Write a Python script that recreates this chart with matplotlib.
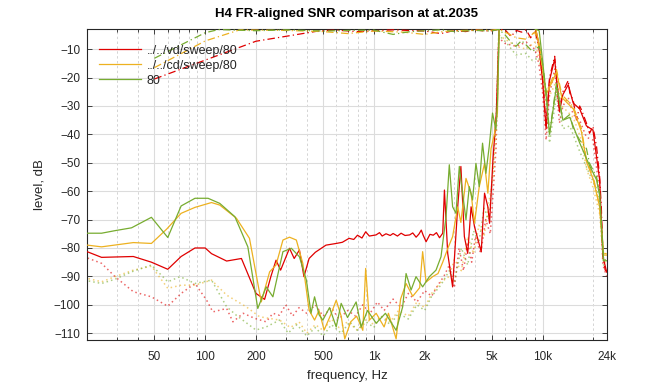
import matplotlib
matplotlib.use("Agg")
import matplotlib.pyplot as plt
from matplotlib.ticker import FixedLocator, NullFormatter
from matplotlib.lines import Line2D

plt.rcParams['font.family'] = ['Liberation Sans', 'DejaVu Sans']

# ---------------- data ----------------
title = "H4 FR-aligned SNR comparison at at.2035"
labels = ["../../vd/sweep/80", "../../cd/sweep/80", "80"]
xticks = [50, 100, 200, 500, 1000, 2000, 5000, 10000, 24000]
xticklabels = ["50", "100", "200", "500", "1k", "2k", "5k", "10k", "24k"]
yticks = [-110, -100, -90, -80, -70, -60, -50, -40, -30, -20, -10]

# frequency responses (dash-dot)
red_fr_f = [50, 200, 480, 600, 800, 1000, 1300, 1600, 2000, 2500, 3000, 3500, 4000, 4500, 5000,
            5500, 6000, 6500, 7000, 7500, 8000, 8500, 9000, 9500, 10000, 10500, 11000, 11800,
            12600, 13200, 14200, 14500, 15200, 15900, 16600, 17000, 18200, 19000, 19900, 20900,
            21800, 22300, 22800, 23500, 24000]
red_fr = [-20.5, -7.2, -3.5, -3.3, -3.8, -3.5, -3.2, -3.4, -3.6, -4.5, -3.4, -3.8, -3.2, -3.6, -3.5,
          -3.0, -3.2, -5.5, -3.4, -4.0, -3.2, -6.0, -3.5, -9.0, -19.6, -37.0, -20.0, -12.5,
          -31.0, -25.0, -21.0, -25.4, -28.0, -34.9, -30.0, -31.3, -36.0, -39.6, -37.2, -44.3,
          -54.9, -65.5, -81.9, -87.8, -88.0]

orange_fr_f = [50, 100, 160, 300, 500, 700, 1000, 1500, 2000, 2500, 3000, 4000, 5000, 5500, 6000,
               7000, 8000, 9000, 9600, 10500, 11500, 12100, 13000, 15200, 17000, 18200, 20000,
               21800, 23000, 24000]
orange_fr = [-16.5, -7.1, -3.2, -3.4, -3.8, -4.5, -3.6, -4.0, -4.8, -3.9, -3.5, -3.3, -3.3, -3.0, -4.0,
             -6.0, -6.5, -4.0, -10.0, -25.4, -20.0, -17.2, -26.0, -30.2, -38.0, -49.0, -55.0,
             -65.5, -81.9, -82.0]

green_fr_f = [50, 100, 120, 200, 300, 500, 700, 1000, 1300, 1600, 2000, 2500, 3000, 4000, 5000,
              5500, 6000, 6500, 6950, 7500, 7960, 8710, 9550, 10000, 10500, 11000, 12100, 13200,
              14500, 15200, 16600, 18200, 19000, 20900, 21800, 23000, 24000]
green_fr = [-13.2, -4.2, -3.1, -3.5, -3.2, -3.6, -3.4, -3.3, -4.8, -3.9, -3.5, -3.2, -3.8, -3.4, -3.6,
            -3.0, -5.0, -7.5, -9.0, -7.0, -8.4, -10.8, -9.0, -15.0, -25.0, -39.6, -22.0, -35.0,
            -33.0, -38.0, -42.0, -45.0, -50.2, -55.0, -60.7, -84.2, -84.0]

# noise (solid)
red_n_f = [15, 24.3, 37.5, 48, 60, 72, 87, 100, 109, 134, 164, 200, 225, 245, 263, 280, 316, 337,
           362, 385, 413, 450, 520, 599, 650, 713, 760, 800, 850, 894, 940, 1030, 1080, 1120, 1180,
           1250, 1300, 1380, 1450, 1530, 1630, 1700, 1780, 1850, 1910, 1960, 2040, 2150, 2250,
           2350, 2450, 2560, 2620, 2740, 2930, 3140, 3280, 3440, 3600, 3770, 3950, 4330, 4530,
           4740, 4850, 5080, 5320, 5530, 6000, 7000, 8000, 9000, 9500, 10000, 10500, 11000, 11800,
           12600, 13200, 14200, 15200, 16600, 18200, 19900, 21800, 22800, 24000]
red_n = [-78.4, -83.3, -83.0, -85.0, -87.5, -83.0, -80.0, -80.0, -82.0, -84.6, -83.7, -96.0, -98.1,
         -90.1, -84.3, -87.8, -80.1, -83.7, -80.7, -90.1, -83.7, -81.5, -79.0, -78.4, -78.0, -76.6,
         -77.0, -75.5, -76.5, -74.3, -75.8, -75.4, -74.6, -75.8, -75.0, -75.6, -74.9, -75.8, -74.8,
         -75.6, -75.4, -74.7, -76.2, -75.1, -73.7, -75.5, -77.8, -75.2, -75.5, -74.6, -76.4, -74.8,
         -59.6, -81.9, -93.7, -65.5, -51.3, -76.0, -81.9, -65.5, -72.5, -81.3, -60.7, -65.5,
         -71.3, -49.0, -32.5, -2.0, -1.0, -1.0, -1.0, -1.5, -8.0, -21.0, -38.0, -21.0, -13.5,
         -32.0, -26.0, -22.5, -29.0, -31.0, -37.0, -38.5, -56.0, -83.0, -88.5]

orange_n_f = [15, 24.3, 37.5, 48, 59, 72, 87, 109, 122, 153, 183, 215, 241, 263, 289, 316, 347, 379,
              413, 445, 473, 507, 556, 598, 640, 672, 729, 790, 860, 894, 940, 1032, 1150, 1220,
              1355, 1440, 1552, 1700, 1868, 1946, 2040, 2230, 2400, 2560, 2750, 2930, 3140, 3280,
              3516, 3770, 3950, 4214, 4530, 4740, 4950, 5180, 5400, 5534, 6000, 7000, 8000, 9000,
              9600, 10500, 11500, 12100, 13000, 15200, 17000, 18200, 20000, 21800, 23000, 24000]
orange_n = [-78.1, -79.6, -78.1, -78.4, -73.4, -67.8, -65.7, -64.0, -64.9, -69.5, -76.6, -99.0,
            -88.4, -86.0, -77.2, -76.2, -77.2, -85.4, -101.9, -105.4, -102.0, -108.9, -103.4,
            -98.4, -104.0, -112.0, -106.0, -104.0, -109.0, -87.2, -105.4, -103.0, -107.8, -103.0,
            -112.0, -98.0, -92.5, -97.0, -94.0, -81.3, -92.0, -90.1, -89.0, -85.0, -80.0, -76.0,
            -65.5, -71.0, -55.5, -60.7, -71.3, -58.4, -50.2, -60.7, -45.0, -40.0, -32.5, -2.0,
            -1.0, -1.5, -2.0, -1.5, -9.0, -26.0, -21.0, -18.0, -27.0, -31.0, -39.0, -49.5, -56.0,
            -65.5, -82.5, -82.5]

green_n_f = [15, 24.3, 29.2, 36.6, 48, 60, 72, 87, 104, 122, 150, 179, 205, 230, 252, 276, 289, 324,
             362, 398, 424, 445, 473, 498, 546, 598, 640, 698, 785, 841, 916, 1032, 1171, 1355, 1482,
             1552, 1662, 1778, 1946, 2132, 2336, 2500, 2678, 2800, 2930, 3068, 3210, 3358, 3516,
             3678, 3846, 4028, 4214, 4408, 4616, 4828, 5052, 5290, 5408, 5534, 6060, 6950, 7960,
             8710, 9550, 10000, 10500, 11000, 12100, 13200, 14500, 16600, 19000, 20900, 21800,
             23000, 24000]
green_n = [-74.8, -74.8, -73.9, -72.9, -69.2, -76.3, -65.2, -62.5, -62.5, -64.3, -69.0, -79.6,
           -101.3, -93.7, -97.2, -86.6, -81.3, -80.1, -83.1, -91.3, -103.0, -97.2, -103.5, -105.4,
           -101.0, -107.8, -99.5, -104.5, -99.0, -107.8, -102.0, -106.5, -103.0, -109.0, -100.7,
           -89.0, -94.8, -90.1, -93.7, -90.1, -87.8, -83.1, -69.0, -50.7, -65.5, -67.8, -51.3,
           -60.7, -70.1, -58.4, -63.1, -50.2, -58.4, -43.1, -53.7, -44.3, -32.5, -38.4, -27.8,
           -2.0, -1.5, -2.5, -2.0, -2.5, -3.5, -14.0, -26.0, -40.0, -23.0, -35.0, -34.0, -43.0,
           -51.0, -56.0, -61.5, -84.5, -84.5]

# noise (dotted)
red_d_f = [15, 24.3, 29.2, 37.5, 48, 60, 72, 87, 102, 111, 134, 146, 168, 197, 230, 252, 276,
           300, 330, 360, 400, 450, 500, 560, 620, 700, 780, 860, 950, 1050, 1150, 1300, 1450,
           1600, 1800, 2000, 2200, 2400, 2600, 2800, 3000, 3200, 3400, 3600, 3800, 4000, 4300,
           4600, 4900, 5100, 5300, 5500, 6000, 7000, 8000, 9000, 9500, 10000, 10500, 11000,
           11800, 12600, 13200, 14200, 15200, 16600, 18200, 19900, 21800, 22800, 24000]
red_d = [-80.7, -85.4, -90.1, -95.4, -97.2, -100.5, -96.0, -92.5, -98.4, -102.5, -101.3, -106.0,
         -103.0, -104.8, -106.0, -103.0, -103.7,
         -100.0, -104.0, -101.0, -103.0, -100.0, -104.0, -101.0, -105.0, -102.0, -104.0, -100.0,
         -103.0, -99.0, -102.0, -98.0, -101.0, -96.0, -99.0, -95.0, -97.0, -93.0, -90.0, -86.0,
         -94.0, -80.0, -88.0, -78.0, -85.0, -76.0, -82.0, -70.0, -75.0, -60.0, -45.0, -6.0,
         -8.0, -9.0, -7.5, -10.0, -15.0, -25.0, -42.0, -26.0, -17.0, -36.0, -30.0, -27.0, -33.0,
         -35.0, -41.0, -42.0, -60.0, -86.0, -90.0]

orange_d_f = [15, 24.3, 29.2, 37.5, 48, 60, 72, 87, 109, 134, 175, 210, 276,
              320, 360, 400, 450, 500, 560, 620, 700, 800, 900, 1000, 1100, 1250, 1400, 1600,
              1800, 2000, 2200, 2500, 2800, 3000, 3300, 3600, 3900, 4200, 4500, 4800, 5100, 5300,
              5500, 6000, 7000, 8000, 9000, 9600, 10500, 11500, 12100, 13000, 15200, 17000, 18200,
              20000, 21800, 23000, 24000]
orange_d = [-88.9, -91.9, -90.1, -87.8, -86.4, -94.2, -93.1, -93.1, -91.3, -96.6, -100.7, -104.2,
            -105.4,
            -108.0, -106.0, -110.0, -107.0, -109.0, -105.0, -108.0, -106.0, -109.0, -105.0,
            -107.0, -104.0, -106.0, -102.0, -104.0, -99.0, -101.0, -96.0, -92.0, -90.0, -84.0,
            -88.0, -76.0, -82.0, -72.0, -76.0, -64.0, -55.0, -40.0, -5.0,
            -6.5, -9.0, -10.0, -7.5, -14.0, -29.0, -24.0, -21.0, -30.0, -34.0, -42.0, -52.0,
            -59.0, -68.0, -85.0, -85.0]

green_d_f = [15, 24.3, 29.2, 36.6, 48, 60, 71, 87, 109, 134, 153, 200, 230, 276,
             310, 350, 400, 450, 500, 560, 640, 720, 800, 900, 1000, 1100, 1250, 1400, 1600, 1800,
             2000, 2200, 2500, 2800, 3000, 3300, 3600, 3900, 4200, 4500, 4800, 5100, 5300, 5500,
             6060, 6950, 7960, 8710, 9550, 10000, 10500, 11000, 12100, 13200, 14500, 16600, 19000,
             20900, 21800, 23000, 24000]
green_d = [-90.1, -92.5, -91.0, -88.4, -86.0, -91.9, -90.1, -92.5, -91.3, -100.7, -103.7, -108.9,
           -107.8, -105.4,
           -110.0, -107.0, -111.0, -108.0, -111.0, -107.0, -110.0, -106.0, -109.0, -106.0,
           -108.0, -104.0, -107.0, -103.0, -105.0, -100.0, -102.0, -97.0, -93.0, -88.0, -92.0,
           -80.0, -86.0, -74.0, -78.0, -66.0, -70.0, -52.0, -35.0, -5.0,
           -7.5, -12.0, -11.5, -14.0, -13.0, -19.0, -29.0, -43.0, -26.0, -38.0, -37.0, -46.0,
           -54.0, -59.0, -64.0, -86.0, -86.0]

colors = ["#e00000", "#edb120", "#77ac30"]

# ---------------- plot ----------------
fig = plt.figure(figsize=(6.72, 3.84), dpi=100)
ax = fig.add_axes([0.1299, 0.1146, 0.7729, 0.8091])
ax.set_xscale('log')

series = [
    (red_fr_f, red_fr, red_n_f, red_n, red_d_f, red_d),
    (orange_fr_f, orange_fr, orange_n_f, orange_n, orange_d_f, orange_d),
    (green_fr_f, green_fr, green_n_f, green_n, green_d_f, green_d),
]
handles = []
for (ff, fv, nf, nv, df, dv), c, lab in zip(series, colors, labels):
    ax.plot(df, dv, color=c, lw=1.1, ls=(0, (1, 2)), alpha=0.6, zorder=2)
    ax.plot(nf, nv, color=c, lw=0.9, ls='-', zorder=3)
    ax.plot(ff, fv, color=c, lw=0.9, ls=(0, (6, 2.5, 1, 2.5)), zorder=3)
    handles.append(Line2D([], [], color=c, lw=0.9))

ax.set_xlim(20, 24000)
ax.set_ylim(-112.4, -3.0)
ax.xaxis.set_major_locator(FixedLocator(xticks))
ax.set_xticklabels(xticklabels)
minors = [30, 40, 60, 70, 80, 90, 300, 400, 600, 700, 800, 900, 3000, 4000, 6000, 7000, 8000,
          9000, 20000]
ax.xaxis.set_minor_locator(FixedLocator(minors))
ax.xaxis.set_minor_formatter(NullFormatter())
ax.set_yticks(yticks)

ax.grid(True, which='major', color='#dcdcdc', lw=0.8, ls='-', zorder=0)
ax.grid(True, which='minor', axis='x', color='#d4d4d4', lw=0.7, ls=(0, (2.5, 2.5)), zorder=0)
ax.set_axisbelow(True)

ax.tick_params(which='both', direction='in', top=True, right=True, colors='#262626',
               labelsize=8.5, width=0.6)
ax.tick_params(which='major', length=3.5)
ax.tick_params(which='minor', length=2)
ax.tick_params(axis='x', which='both', pad=8)
ax.tick_params(axis='y', which='both', pad=5)
for s in ax.spines.values():
    s.set_color('#262626')
    s.set_linewidth(0.8)

ax.set_xlabel("frequency, Hz", fontsize=9.5, color='#262626', labelpad=5)
ax.set_ylabel("level, dB", fontsize=9.5, color='#262626', labelpad=6)
ax.set_title(title, fontsize=9.5, fontweight='bold', color='#000000', pad=9)

leg = ax.legend(handles, labels, loc='upper left', bbox_to_anchor=(0.008, 0.975), frameon=False,
                fontsize=9, handlelength=3.4, handletextpad=0.4, labelspacing=0.25,
                borderaxespad=0.2)
for t in leg.get_texts():
    t.set_color('#262626')

fig.savefig("out.png", dpi=100)
